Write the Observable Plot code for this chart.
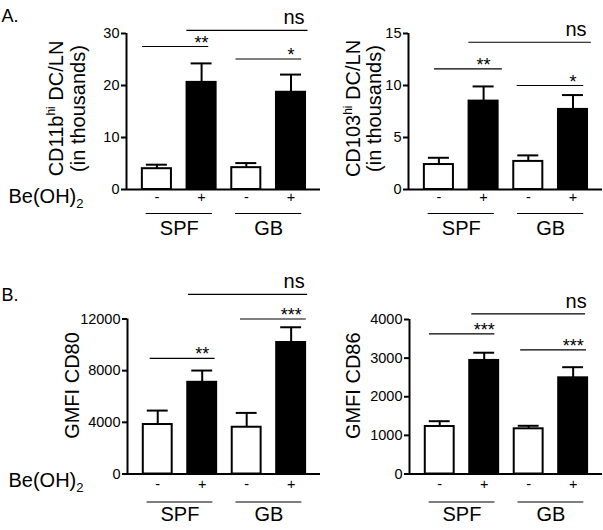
<!DOCTYPE html>
<html><head><meta charset="utf-8">
<script src="https://cdn.jsdelivr.net/npm/d3@7"></script>
<script src="https://cdn.jsdelivr.net/npm/@observablehq/plot@0.6"></script>
<style>
body{margin:0;background:#fff;}
#root{position:relative;width:603px;height:530px;overflow:hidden;background:#fff;}
.panel{position:absolute;}
</style></head><body><div id="root"></div>
<script>
// ---- data ----
const groups = ["SPF", "SPF", "GB", "GB"];
const treatment = ["-", "+", "-", "+"];
const groupNames = ["SPF", "GB"];
const factorLabel = "Be(OH)2";

const a1Values = [4.0, 20.6, 4.2, 18.7];
const a1Sems = [0.77, 3.65, 0.88, 3.4];
const a1Ticks = [0, 10, 20, 30];
const a1Label = ["CD11b", "hi", " DC/LN"];
const a1Brackets = [
  {x1: -0.32, x2: 1.16, y: 27.5, label: "**", at: 1},
  {x1: 1.77, x2: 3.24, y: 25.1, label: "*", at: 3},
  {x1: 0.67, x2: 3.38, y: 30.6, label: "ns", at: 3}
];

const a2Values = [2.4, 8.5, 2.7, 7.7];
const a2Sems = [0.65, 1.41, 0.58, 1.38];
const a2Ticks = [0, 5, 10, 15];
const a2Label = ["CD103", "hi", " DC/LN"];
const a2Brackets = [
  {x1: -0.1, x2: 1.42, y: 11.6, label: "**", at: 1},
  {x1: 1.75, x2: 3.24, y: 10.0, label: "*", at: 3},
  {x1: 0.67, x2: 3.41, y: 14.16, label: "ns", at: 3}
];

const b1Values = [3830, 7100, 3620, 10180];
const b1Sems = [1080, 910, 1110, 1180];
const b1Ticks = [0, 4000, 8000, 12000];
const b1Label = ["GMFI CD80", "", ""];
const b1Brackets = [
  {x1: -0.17, x2: 1.29, y: 8950, label: "**", at: 1},
  {x1: 1.86, x2: 3.34, y: 12000, label: "***", at: 3},
  {x1: 0.69, x2: 3.37, y: 13900, label: "ns", at: 3}
];

const b2Values = [1230, 2940, 1170, 2490];
const b2Sems = [137, 200, 78, 275];
const b2Ticks = [0, 1000, 2000, 3000, 4000];
const b2Label = ["GMFI CD86", "", ""];
const b2Brackets = [
  {x1: -0.23, x2: 1.24, y: 3630, label: "***", at: 1},
  {x1: 1.82, x2: 3.3, y: 3216, label: "***", at: 3},
  {x1: 0.72, x2: 3.28, y: 4148, label: "ns", at: 3}
];

// ---- layout / style ----
const FONT = "Liberation Sans, Arial, Helvetica, sans-serif";
const xDomain = [-0.68, 3.66];

function groupCenter(g) {
  const ids = groups.map((d, i) => d === g ? i : null).filter(d => d !== null);
  return d3.mean(ids);
}

function panel(cfg) {
  const bars = cfg.values.map((v, i) => ({i, group: groups[i], treat: treatment[i], value: v, sem: cfg.sems[i]}));
  const yMax = d3.max(cfg.ticks);
  const fullLabel = cfg.label.join("");
  const marks = [
    Plot.rectY(bars.filter(d => d.treat === "-"), {x1: d => d.i - 0.325, x2: d => d.i + 0.325, y1: () => 0, y2: "value", fill: "white", stroke: "black", strokeWidth: 2}),
    Plot.rectY(bars.filter(d => d.treat === "+"), {x1: d => d.i - 0.325, x2: d => d.i + 0.325, y1: () => 0, y2: "value", fill: "black", stroke: "black", strokeWidth: 2}),
    Plot.ruleX(bars, {x: "i", y1: "value", y2: d => d.value + d.sem, strokeWidth: 2}),
    Plot.ruleY(bars, {x1: d => d.i - 0.235, x2: d => d.i + 0.235, y: d => d.value + d.sem, strokeWidth: 2}),
    Plot.ruleY([0], {x1: () => xDomain[0], x2: () => xDomain[1], strokeWidth: 2}),
    Plot.ruleX([xDomain[0]], {y1: () => 0, y2: () => yMax, strokeWidth: 2}),
    Plot.axisY({ticks: cfg.ticks, tickFormat: d => String(d), tickSize: 5, tickPadding: 2, fontSize: 14.5, strokeWidth: 2, label: null}),
    // significance brackets
    Plot.ruleY(cfg.brackets, {x1: "x1", x2: "x2", y: "y", strokeWidth: 1.2}),
    Plot.text(cfg.brackets.filter(d => d.label !== "ns"), {x: "at", y: "y", text: "label", lineAnchor: "bottom", dy: 2, fontSize: 18}),
    Plot.text(cfg.brackets.filter(d => d.label === "ns"), {x: "at", y: "y", text: "label", lineAnchor: "bottom", dy: -6, dx: 3, fontSize: 20}),
    // treatment and group labels
    Plot.text(bars, {x: "i", text: "treat", frameAnchor: "bottom", dy: cfg.treatDy, fontSize: 14.5}),
    Plot.ruleY(groupNames, {x1: g => groupCenter(g) - 0.74, x2: g => groupCenter(g) + 0.74, y: () => 0, dy: cfg.lineDy, strokeWidth: 1.2}),
    Plot.text(groupNames, {x: g => groupCenter(g), text: d => d, frameAnchor: "bottom", dy: cfg.groupDy, fontSize: 20}),
    // y label
    Plot.text([fullLabel], {frameAnchor: "left", textAnchor: "middle", rotate: -90, dx: cfg.labelDx, dy: cfg.labelDy, text: d => d, fontSize: 20})
  ];
  if (cfg.label2) marks.push(Plot.text([cfg.label2], {frameAnchor: "left", textAnchor: "middle", rotate: -90, dx: cfg.label2Dx, dy: cfg.labelDy, text: d => d, fontSize: 20}));
  if (cfg.showFactor) marks.push(Plot.text([factorLabel], {frameAnchor: "bottom-left", textAnchor: "start", dx: 8 - cfg.ml, dy: cfg.factorDy, text: d => d, fontSize: 20}));
  if (cfg.letter) marks.push(Plot.text([cfg.letter], {frameAnchor: "top-left", textAnchor: "start", dx: 1 - cfg.ml, dy: cfg.letterDy, text: d => d, fontSize: 18}));

  const svg = Plot.plot({
    width: cfg.w, height: cfg.h,
    marginLeft: cfg.ml, marginRight: cfg.mr, marginTop: cfg.mt, marginBottom: cfg.mb,
    x: {domain: xDomain, axis: null},
    y: {domain: [0, yMax], axis: null},
    style: {fontFamily: FONT, background: "transparent", color: "black", overflow: "visible"},
    marks
  });
  // rich text: superscript / subscript
  d3.select(svg).selectAll("text").each(function () {
    const t = this.textContent;
    const sel = d3.select(this);
    if (cfg.label[1] && t === fullLabel) {
      sel.text(null);
      sel.append("tspan").text(cfg.label[0]);
      sel.append("tspan").attr("font-size", 12).attr("dy", -8).text(cfg.label[1]);
      sel.append("tspan").attr("dy", 8).text(cfg.label[2]);
    } else if (t === factorLabel) {
      sel.text(null);
      sel.append("tspan").text("Be(OH)");
      sel.append("tspan").attr("font-size", 13).attr("dy", 5).text("2");
    }
  });
  const div = document.createElement("div");
  div.className = "panel";
  div.style.left = cfg.left + "px";
  div.style.top = cfg.top + "px";
  div.appendChild(svg);
  document.getElementById("root").appendChild(div);
}

panel({values: a1Values, sems: a1Sems, ticks: a1Ticks, label: a1Label, label2: "(in thousands)", brackets: a1Brackets,
  left: 0, top: 0, w: 325, h: 250, ml: 126, mr: 5, mt: 33, mb: 61,
  labelDx: -70, label2Dx: -48, labelDy: -3, treatDy: 12, lineDy: 24, groupDy: 45, factorDy: 13, showFactor: true, letter: "A.", letterDy: -24});
panel({values: a2Values, sems: a2Sems, ticks: a2Ticks, label: a2Label, label2: "(in thousands)", brackets: a2Brackets,
  left: 300, top: 0, w: 303, h: 250, ml: 108, mr: 1, mt: 33, mb: 61,
  labelDx: -55, label2Dx: -34, labelDy: -3, treatDy: 12, lineDy: 24, groupDy: 45});
panel({values: b1Values, sems: b1Sems, ticks: b1Ticks, label: b1Label, brackets: b1Brackets,
  left: 0, top: 265, w: 325, h: 265, ml: 127, mr: 5, mt: 53.5, mb: 56.5,
  labelDx: -55, labelDy: -11, treatDy: 15, lineDy: 28, groupDy: 47, factorDy: 13.4, showFactor: true, letter: "B.", letterDy: -31});
panel({values: b2Values, sems: b2Sems, ticks: b2Ticks, label: b2Label, brackets: b2Brackets,
  left: 300, top: 265, w: 303, h: 265, ml: 109, mr: 1, mt: 54, mb: 56.5,
  labelDx: -56, labelDy: -11, treatDy: 15, lineDy: 28, groupDy: 47});
</script>
</body></html>
